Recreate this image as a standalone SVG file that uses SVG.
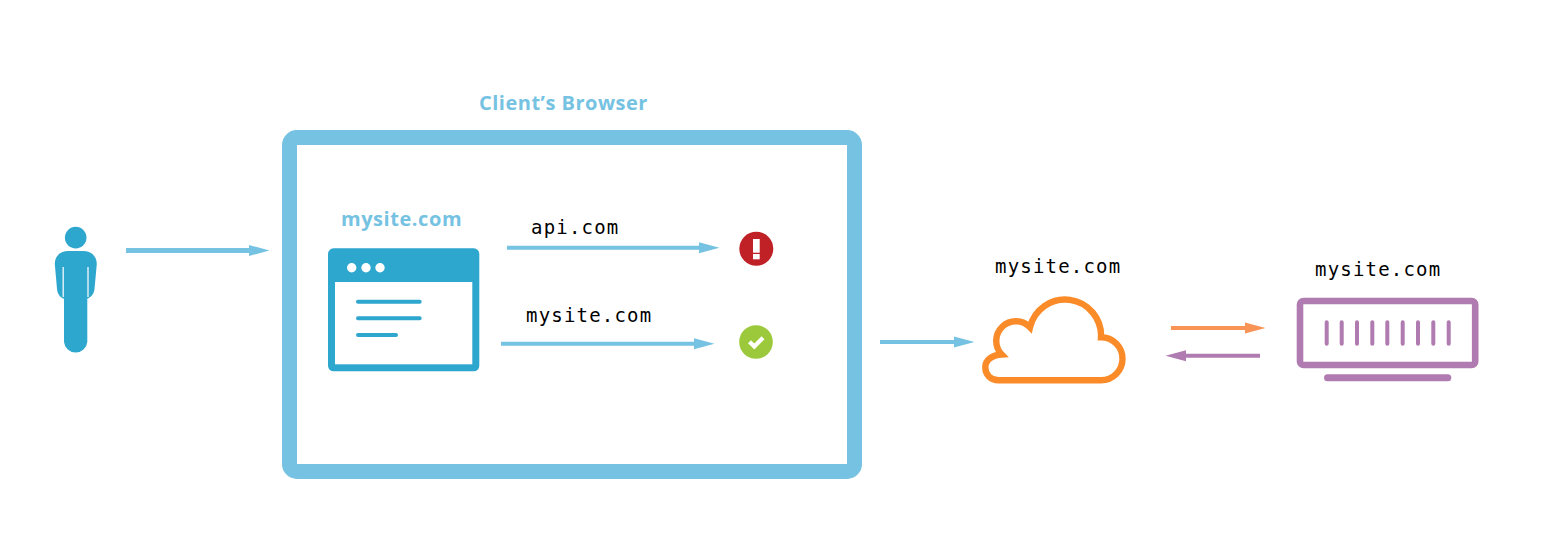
<svg xmlns="http://www.w3.org/2000/svg" width="1549" height="558" viewBox="0 0 1549 558">
<style>
text{white-space:pre}
.title{font-family:"Open Sans","Liberation Sans",sans-serif;font-weight:700;font-size:20px;fill:#75c2e2;letter-spacing:.5px}
.mono{font-family:"DejaVu Sans Mono","Liberation Mono",monospace;font-size:19px;fill:#000;letter-spacing:1.2px}
.conn{fill:none;stroke-width:4}
.blue{stroke:#75c2e2;marker-end:url(#hb)}
.orange{stroke:#f99356;marker-end:url(#ho)}
.purple{stroke:#b07bb0;marker-end:url(#hp)}
.dark{fill:#2ea7cf}
.dl{stroke:#2ea7cf;stroke-width:4;stroke-linecap:round;fill:none}
.pl{stroke:#b07bb0;stroke-width:4;stroke-linecap:round;fill:none}
</style>
<defs>
<marker id="hb" markerUnits="userSpaceOnUse" markerWidth="21" markerHeight="12" refX="0" refY="6" orient="auto"><path d="M0 .5L20.5 6L0 11.5Z" fill="#75c2e2"/></marker>
<marker id="ho" markerUnits="userSpaceOnUse" markerWidth="21" markerHeight="12" refX="0" refY="6" orient="auto"><path d="M0 .5L20.5 6L0 11.5Z" fill="#f99356"/></marker>
<marker id="hp" markerUnits="userSpaceOnUse" markerWidth="21" markerHeight="12" refX="0" refY="6" orient="auto"><path d="M0 .5L20.5 6L0 11.5Z" fill="#b07bb0"/></marker>
</defs>
<rect width="1549" height="558" fill="#fff"/>
<g id="client-browser">
<rect x="289.5" y="137.5" width="565" height="334" rx="7.5" fill="#fff" stroke="#75c2e2" stroke-width="15"/>
<text class="title" x="479" y="110">Client’s Browser</text>
</g>
<g id="user">
<circle class="dark" cx="75.7" cy="237.6" r="10.8"/>
<path class="dark" d="M69 251H83C91 251 96.8 256 96.8 264L94.5 289C94 294 91 297 88 298.5L87.3 298.5V342A11.7 11.7 0 0 1 64 342V298.5L63 298.5C60 297 57.5 294 57 289L54.8 264C54.8 256 60 251 69 251Z"/>
<path d="M63.2 267V297M88 267V297" stroke="#e6f3f8" stroke-width="1.4" fill="none"/>
</g>
<g id="page-mysite">
<text class="title" x="341" y="226" style="letter-spacing:.55px">mysite.com</text>
<rect class="dark" x="328" y="248.3" width="151.3" height="123" rx="5.5"/>
<rect x="335" y="282" width="137.3" height="82.3" fill="#fff"/>
<circle cx="351.7" cy="267.7" r="4.7" fill="#fff"/>
<circle cx="366" cy="267.7" r="4.7" fill="#fff"/>
<circle cx="380" cy="267.7" r="4.7" fill="#fff"/>
<path class="dl" d="M358 301.7H419.7M358 318.3H419.7M358 335H396"/>
</g>
<g id="error-icon">
<circle cx="756.3" cy="248.8" r="17" fill="#c02126"/>
<rect x="753" y="239" width="6.7" height="13.7" fill="#fff"/>
<rect x="753" y="254" width="6.7" height="5.3" fill="#fff"/>
</g>
<g id="ok-icon">
<circle cx="756" cy="342" r="16.8" fill="#9bc93b"/>
<path d="M749.5 341.8L754.3 346.6L763 337.8" fill="none" stroke="#fff" stroke-width="4.2"/>
</g>
<g id="cloud">
<path d="M1001.7 354.5A19.5 19.5 0 0 1 1030 327.3A36 36 0 0 1 1101 337.3A21.5 21.5 0 0 1 1101 380.3H998.5C990.5 380.3 985.3 374.5 985.3 367.3C985.3 360 992 355 1001.7 354.5Z" fill="#fff" stroke="#fa8b28" stroke-width="6.4" stroke-linejoin="miter"/>
<text class="mono" x="995" y="273">mysite.com</text>
</g>
<g id="server">
<rect x="1300" y="301" width="175.2" height="64" rx="3.5" fill="#fff" stroke="#b07bb0" stroke-width="6.6"/>
<path class="pl" d="M1326.7 322.3V343.7M1341.7 322.3V343.7M1357 322.3V343.7M1372.3 322.3V343.7M1387.3 322.3V343.7M1402.7 322.3V343.7M1418 322.3V343.7M1433.3 322.3V343.7M1448.7 322.3V343.7"/>
<path class="pl" style="stroke-width:7" d="M1327.5 377.7H1447.8"/>
<text class="mono" x="1315" y="276">mysite.com</text>
</g>
<g id="connectors">
<path class="conn blue" style="stroke-width:5" d="M126 250.5H249"/>
<path class="conn blue" d="M507 247.7H699"/>
<path class="conn blue" d="M501 343.7H694"/>
<path class="conn blue" d="M880 342H954"/>
<path class="conn orange" d="M1171 328H1245"/>
<path class="conn purple" d="M1260 355.7H1186"/>
<text class="mono" x="531" y="234">api.com</text>
<text class="mono" x="526" y="322">mysite.com</text>
</g>
</svg>
